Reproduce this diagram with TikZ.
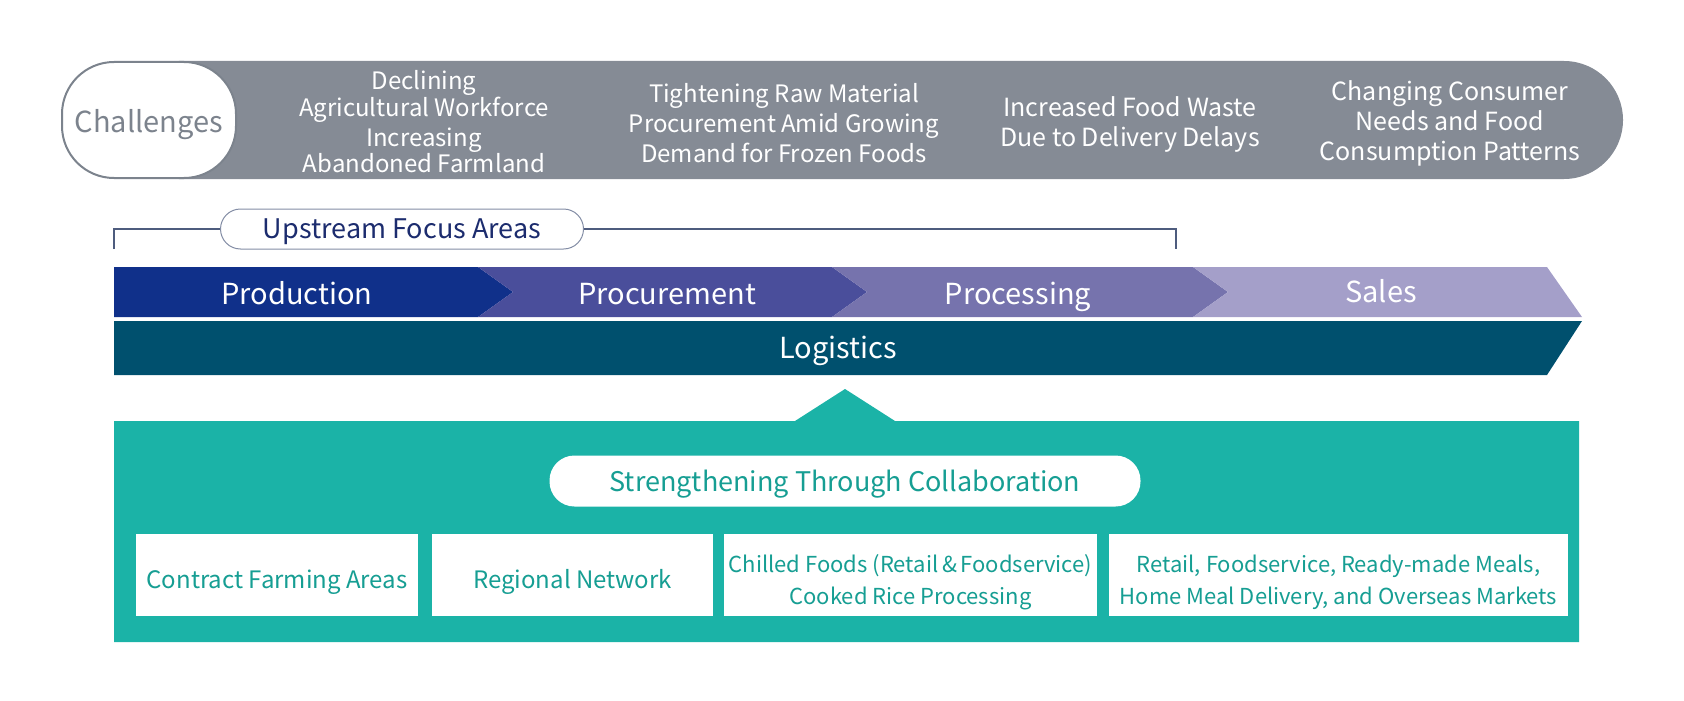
\documentclass[tikz,border=0pt]{standalone}
\usepackage{fontspec}
\setmainfont{Noto Sans CJK JP}
\usetikzlibrary{positioning}
\definecolor{greybar}{HTML}{858B95}
\definecolor{greytxt}{HTML}{7C838D}
\definecolor{prodc}{HTML}{10308A}
\definecolor{procc}{HTML}{4A4E9B}
\definecolor{procsc}{HTML}{7673AD}
\definecolor{salesc}{HTML}{A49FC9}
\definecolor{logic}{HTML}{00506E}
\definecolor{tealc}{HTML}{1BB3A7}
\definecolor{tealtxt}{HTML}{169E93}
\definecolor{navytxt}{HTML}{1C2C6E}
\definecolor{bracketc}{HTML}{4E5C7E}
\begin{document}
\begin{tikzpicture}[x=1pt,y=-1pt,
  gtext/.style={text=white, align=center, inner sep=0pt, font=\fontsize{25}{30}\selectfont},
  chevlabel/.style={text=white, inner sep=0pt, text height=21pt, text depth=7pt, font=\fontsize{29}{29}\selectfont},
  wbox/.style={fill=white, text=tealtxt, align=center, inner sep=0pt, font=\fontsize{23}{32}\selectfont},
]
\useasboundingbox (0,0) rectangle (1684,701);
% challenges bar
\fill[greybar, rounded corners=59] (120,61) rectangle (1623,179);
\node[draw=greytxt, line width=2pt, fill=white, rounded corners=52, minimum width=174pt, minimum height=116pt, inner sep=0pt] (chal) at (149,120) {};
\node[inner sep=0pt, text=greytxt, font=\fontsize{29}{29}\selectfont] (challabel) at (149,125) {Challenges};
\node[gtext, font=\fontsize{24}{24}\selectfont] (c1) at (424,122) {Declining\\Agricultural Workforce\\[5pt]Increasing\\Abandoned Farmland};
\node[gtext, font=\fontsize{24}{30}\selectfont] (c2) at (784,123) {Tightening Raw Material\\Procurement Amid Growing\\Demand for Frozen Foods};
\node[gtext] (c3) at (1130,124) {Increased Food Waste\\Due to Delivery Delays};
\node[gtext] (c4) at (1450,123) {Changing Consumer\\Needs and Food\\Consumption Patterns};
% upstream bracket
\coordinate (bl) at (114,249);
\coordinate (br) at (1176,249);
\node[draw=bracketc!70, line width=1pt, fill=white, rounded corners=20, minimum width=363pt, minimum height=40pt, inner sep=0pt] (up) at (402,229) {};
\node[text=navytxt, inner sep=0pt, text height=19pt, text depth=6pt, font=\fontsize{27}{27}\selectfont] (uplabel) at (402,232) {Upstream Focus Areas};
\draw[bracketc, line width=1.5pt] (bl) |- (up.west);
\draw[bracketc, line width=1.5pt] (up.east) -| (br);
% chevrons
\fill[prodc] (114,267) -- (478,267) -- (513,292) -- (478,317) -- (114,317) -- cycle;
\fill[procc] (478,267) -- (832,267) -- (867,292) -- (832,317) -- (478,317) -- (513,292) -- cycle;
\fill[procsc] (832,267) -- (1193,267) -- (1228,292) -- (1193,317) -- (832,317) -- (867,292) -- cycle;
\fill[salesc] (1193,267) -- (1547,267) -- (1582,317) -- (1193,317) -- (1228,292) -- cycle;
\fill[logic] (114,321) -- (1582,321) -- (1547,375) -- (114,375) -- cycle;
\node[chevlabel] (prod) at (297,297) {Production};
\node[chevlabel] (proc) at (667,297) {Procurement};
\node[chevlabel] (procs) at (1018,297) {Processing};
\node[chevlabel] (sales) at (1381,295) {Sales};
\node[chevlabel] (logi) at (838,351) {Logistics};
% teal section
\fill[tealc] (114,421) -- (795,421) -- (845,389) -- (895,421) -- (1579,421) -- (1579,642) -- (114,642) -- cycle;
\node[fill=white, rounded corners=25, minimum width=591pt, minimum height=51pt, inner sep=0pt] (collab) at (845,481) {};
\node[text=tealtxt, inner sep=0pt, text height=20pt, text depth=6pt, font=\fontsize{27}{27}\selectfont] (collablabel) at (845,484) {Strengthening Through Collaboration};
\node[fill=white, minimum width=282pt, minimum height=82pt, inner sep=0pt] (b1) at (277,575) {};
\node[fill=white, minimum width=281pt, minimum height=82pt, inner sep=0pt] (b2) at (572.5,575) {};
\node[fill=white, minimum width=373pt, minimum height=82pt, inner sep=0pt] (b3) at (910.5,575) {};
\node[fill=white, minimum width=459pt, minimum height=82pt, inner sep=0pt] (b4) at (1338.5,575) {};
\node[wbox, text height=17pt, text depth=5pt, font=\fontsize{24}{32}\selectfont] (t1) at (277,582) {Contract Farming Areas};
\node[wbox, text height=17pt, text depth=5pt, font=\fontsize{24}{32}\selectfont] (t2) at (572.5,582) {Regional Network};
\node[wbox, font=\fontsize{22}{32}\selectfont] (t3) at (910.5,582) {Chilled Foods (Retail\,\&\,Foodservice)\\Cooked Rice Processing};
\node[wbox, font=\fontsize{22}{32}\selectfont] (t4) at (1338.5,582) {Retail, Foodservice, Ready-made Meals,\\Home Meal Delivery, and Overseas Markets};
\end{tikzpicture}
\end{document}
